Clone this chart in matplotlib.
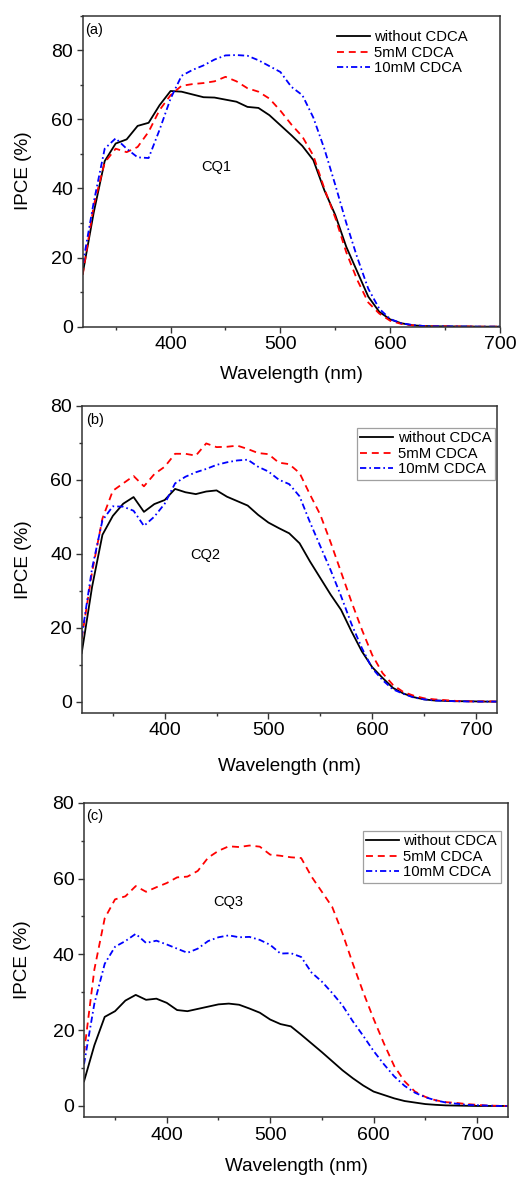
import matplotlib
matplotlib.use("Agg")
import matplotlib.pyplot as plt
from matplotlib.ticker import MultipleLocator
import numpy as np

plt.rcParams['font.family'] = ['Liberation Sans', 'DejaVu Sans']
plt.rcParams['lines.scale_dashes'] = False

labels = ["without CDCA", "5mM CDCA", "10mM CDCA"]

# ---- Panel (a) CQ1 ----
wl_a = list(range(320, 701, 10))
a_none = [15.4, 33, 47.9, 53, 54.2, 58.1, 59, 64.1, 68.2, 68, 67.2, 66.4, 66.3, 65.7, 65.1,
          63.6, 63.3, 61.2, 58.3, 55.4, 52.3, 48.2, 39.5, 32.3, 23.1, 15.9, 8.7, 4.3, 2.1,
          1.0, 0.4, 0.2, 0.1, 0.1, 0.05, 0.05, 0.0, 0.0, 0.0]
a_5mM = [15, 35, 47.5, 51.5, 50.5, 52, 56.4, 62.7, 67, 69.7, 70.2, 70.5, 71, 72.3, 71,
         69, 68, 66, 62.5, 58.5, 55, 49.5, 40, 31.5, 21.5, 13.5, 7.0, 3.8, 1.7,
         0.8, 0.4, 0.2, 0.1, 0.1, 0.05, 0.05, 0.0, 0.0, 0.0]
a_10mM = [18, 36, 51.5, 54.5, 51.5, 49, 48.8, 57, 66, 72.6, 74.3, 75.6, 77.3, 78.5, 78.6,
          78.4, 77.1, 75.4, 73.7, 69.4, 67, 60.5, 51.5, 41, 30, 20, 11, 5.2, 2.2,
          1.0, 0.5, 0.2, 0.1, 0.1, 0.05, 0.05, 0.0, 0.0, 0.0]

# ---- Panel (b) CQ2 ----
wl_b = list(range(320, 721, 10))
b_none = [13.1, 31, 45.1, 50.2, 53.5, 55.3, 51.3, 53.4, 54.5, 57.5, 56.6, 56.1, 56.8, 57.1,
          55.4, 54.2, 53, 50.5, 48.4, 46.9, 45.5, 42.8, 37.9, 33.4, 28.9, 24.8, 19, 13.6,
          9.3, 6.4, 3.7, 2.2, 1.2, 0.6, 0.3, 0.2, 0.1, 0.1, 0.05, 0.0, 0.0]
b_5mM = [17, 35, 49.5, 57, 59, 61, 58.2, 61.5, 63.5, 67, 67, 66.5, 69.8, 68.8, 68.9, 69.2,
         68.3, 67.2, 66.9, 64.6, 64.2, 61.8, 56, 50.5, 43, 35, 27, 19.5, 12.6, 7.7, 4.5,
         2.6, 1.6, 0.9, 0.6, 0.4, 0.2, 0.1, 0.0, 0.1, 0.0]
b_10mM = [17.5, 36, 49, 52.8, 52.7, 51.6, 47.5, 50, 53.5, 59, 60.8, 62, 62.9, 64, 64.7,
          65.2, 65.4, 63.5, 62.2, 60, 58.8, 55.5, 48.5, 42, 35.5, 28.5, 21, 14.5, 9,
          5.8, 3.3, 2.1, 1.1, 0.6, 0.3, 0.2, 0.1, 0.05, 0.0, 0.0, 0.0]

# ---- Panel (c) CQ3 ----
wl_c = list(range(320, 731, 10))
c_none = [6.5, 16, 23.5, 25, 27.8, 29.3, 28, 28.3, 27.2, 25.3, 25, 25.6, 26.2, 26.8, 27,
          26.7, 25.7, 24.6, 22.8, 21.6, 21, 18.8, 16.5, 14.2, 11.8, 9.4, 7.3, 5.4, 3.8,
          2.9, 2.0, 1.3, 0.9, 0.5, 0.3, 0.15, 0.1, 0.05, 0.0, 0.0, 0.0, 0.0]
c_5mM = [14, 36, 49.5, 54.5, 55.3, 58, 56.5, 57.7, 58.8, 60.3, 60.5, 62, 65.5, 67.3, 68.5,
         68.3, 68.7, 68.4, 66.3, 66, 65.6, 65.4, 60.5, 56.5, 52.5, 45.5, 37.5, 30, 23,
         16.5, 10.5, 6.5, 3.8, 2.4, 1.5, 1.0, 0.8, 0.5, 0.3, 0.1, 0.05, 0.0]
c_10mM = [11, 27, 37.5, 42, 43.5, 45.4, 43, 43.6, 42.6, 41.5, 40.4, 41.5, 43.5, 44.5, 45,
          44.5, 44.6, 43.8, 42.5, 40.2, 40.3, 39.3, 35.2, 32.8, 29.8, 26.5, 22.3, 18.5,
          14.5, 11, 7.8, 5.3, 3.5, 2.3, 1.5, 0.9, 0.6, 0.3, 0.2, 0.1, 0.0, 0.0]

panels = [
    dict(wl=wl_a, ys=[a_none, a_5mM, a_10mM], tag="(a)", name="CQ1",
         pos=[0.1597, 0.7227, 0.8056, 0.2640], xlim=(320, 700), ylim=(0, 90),
         name_xy=(441.8, 46.3), frame=False, leg_anchor=(0.60, 0.965),
         tag_xy=(0.006, 0.955), ylab=-0.143, xlab=-0.155),
    dict(wl=wl_b, ys=[b_none, b_5mM, b_10mM], tag="(b)", name="CQ2",
         pos=[0.1577, 0.3950, 0.8012, 0.2606], xlim=(320, 720), ylim=(-3, 80),
         name_xy=(439, 39.7), frame=True, leg_anchor=(0.6627, 0.9283),
         tag_xy=(0.01, 0.953), ylab=-0.141, xlab=-0.176),
    dict(wl=wl_c, ys=[c_none, c_5mM, c_10mM], tag="(c)", name="CQ3",
         pos=[0.1622, 0.0515, 0.8185, 0.2671], xlim=(320, 730), ylim=(-3, 80),
         name_xy=(459.7, 53.9), frame=True, leg_anchor=(0.657, 0.911),
         tag_xy=(0.006, 0.958), ylab=-0.144, xlab=-0.157),
]

colors = ["black", "#ff0000", "#0000ff"]
styles = [(None), (0, (5, 3.5)), (0, (4.5, 2.2, 1.2, 2.2))]

fig = plt.figure(figsize=(5.18, 11.78), dpi=100)
for p in panels:
    ax = fig.add_axes(p["pos"])
    for y, c, ls, lab in zip(p["ys"], colors, styles, labels):
        if ls is None:
            ax.plot(p["wl"], y, color=c, lw=1.3, label=lab)
        else:
            ax.plot(p["wl"], y, color=c, lw=1.3, linestyle=ls, label=lab)
    ax.set_xlim(*p["xlim"])
    ax.set_ylim(*p["ylim"])
    ax.xaxis.set_major_locator(MultipleLocator(100))
    ax.xaxis.set_minor_locator(MultipleLocator(50))
    ax.yaxis.set_major_locator(MultipleLocator(20))
    ax.yaxis.set_minor_locator(MultipleLocator(10))
    ax.tick_params(which='both', direction='out', top=False, right=False,
                   labelsize=14, color='#333333', width=1.0)
    ax.tick_params(which='major', length=4.5, pad=2.5)
    ax.tick_params(which='minor', length=2.5)
    for s in ax.spines.values():
        s.set_color('#333333')
        s.set_linewidth(1.1)
    ax.set_xlabel("Wavelength (nm)", fontsize=13.6, va='center')
    ax.set_ylabel("IPCE (%)", fontsize=13.6, va='center')
    ax.xaxis.set_label_coords(0.5, p["xlab"])
    ax.yaxis.set_label_coords(p["ylab"], 0.5)
    ax.text(p["tag_xy"][0], p["tag_xy"][1], p["tag"], transform=ax.transAxes,
            fontsize=10.5, ha='left', va='center')
    ax.text(p["name_xy"][0], p["name_xy"][1], p["name"], fontsize=10.5,
            ha='center', va='center')
    leg = ax.legend(loc='upper left', bbox_to_anchor=p["leg_anchor"], borderaxespad=0,
                    frameon=p["frame"], fancybox=False, fontsize=10.7,
                    handlelength=2.2, handletextpad=0.3, labelspacing=0.1,
                    borderpad=0.25)
    if p["frame"]:
        leg.get_frame().set_edgecolor('#888888')
        leg.get_frame().set_linewidth(0.9)

fig.savefig("out.png", dpi=100)
